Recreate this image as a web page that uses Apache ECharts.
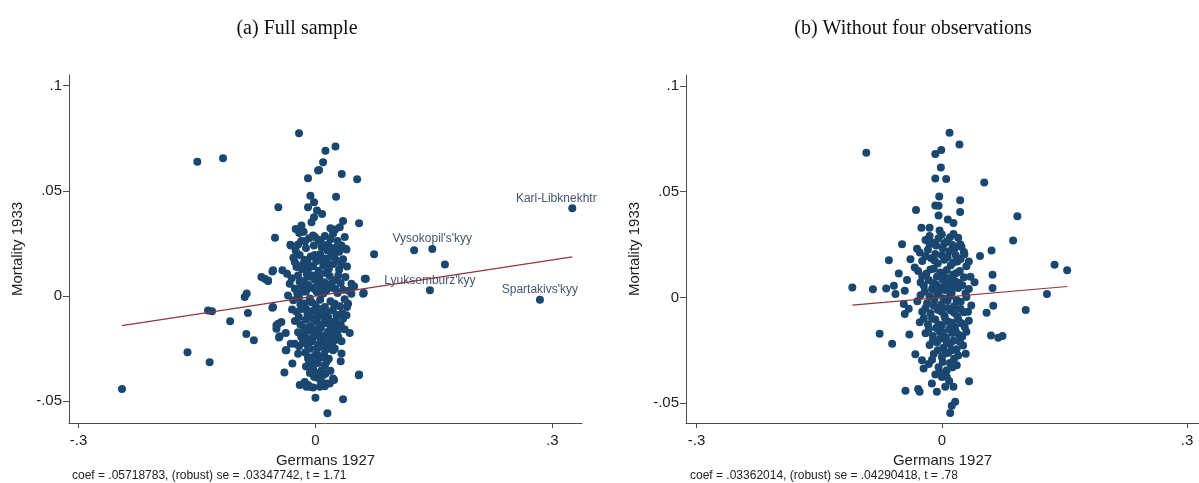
<!DOCTYPE html>
<html>
<head>
<meta charset="utf-8">
<script src="https://cdn.jsdelivr.net/npm/echarts@6/dist/echarts.min.js"></script>
<style>
  html, body { margin: 0; padding: 0; background: #ffffff; }
  #chart { width: 1199px; height: 483px; }
</style>
</head>
<body>
<div id="chart"></div>
<script>
// Panel titles, axis names and tick values
const panelTitles = ['(a) Full sample', '(b) Without four observations'];
const xName = 'Germans 1927';
const yName = 'Mortality 1933';
const xTicks = [-0.3, 0, 0.3];
const yTicks = [-0.05, 0, 0.05, 0.1];

// Regression statistics shown under each panel
const coefs = [0.05718783, 0.03362014];
const robustSE = [0.03347742, 0.04290418];
const tStats = [1.71, 0.78];

// (a) Full sample: [Germans 1927, Mortality 1933] residual pairs
const fullSample = [
  [-0.245,-0.0442],[-0.162,-0.0267],[-0.134,-0.0314],[-0.136,-0.0069],[-0.131,-0.0072],[-0.108,-0.0120],
  [-0.0896,-0.0005],[-0.087,0.0012],[-0.0855,-0.0080],[-0.0875,-0.0180],[-0.078,-0.0210],[-0.0643,0.0082],
  [-0.060,0.0071],[-0.0545,-0.0055],[-0.0545,0.0117],[-0.1496,0.0638],[-0.117,0.0654],[-0.0208,0.0773],
  [-0.047,0.0422],[-0.0512,0.0277],[-0.0317,0.0244],
  [-0.0094,0.0559],[0.0033,0.0596],[-0.0063,0.0477],[-0.0094,0.0422],[-0.0018,0.0446],[-0.0018,0.0374],
  [-0.005,0.0350],[-0.025,0.0319],[-0.0177,0.0335],[0.0127,0.0690],[0.0254,0.0710],[0.0097,0.0635],
  [0.0046,0.0599],[0.0333,0.0580],[0.0528,0.0555],[0.0261,0.0472],[0.0020,0.0406],[0.0084,0.0390],
  [0.0350,0.0356],[0.0553,0.0346],[0.0308,0.0327],[0.0223,0.0296],[0.0371,0.0280],[-0.0006,0.0280],
  [0.0384,0.0225],[0.0743,0.0198],[0.125,0.0217],[0.164,0.0150],[0.0638,0.0082],[0.0612,0.0014],
  [0.0549,-0.0376],[0.035,-0.049],[0.0152,-0.0557],[0,-0.0483],[-0.0393,-0.0363],[-0.0376,-0.0257],
  [-0.0292,-0.0320],[-0.0199,-0.0423],[-0.0114,-0.0431],[-0.003,-0.0434],[0.0055,-0.0431],[0.014,-0.0415],
  [0.0223,-0.0392],[0.032,-0.0310],[0.033,-0.0273],[0.0245,-0.0249],[0.0435,-0.0175],[0.0456,0.0011],
  [0.0393,-0.0091],[0.0287,-0.0163],
  [-0.047,-0.0131],[-0.0494,-0.0155],[-0.0431,-0.0123],[-0.0376,-0.0175],[-0.0461,-0.0197],[-0.0296,-0.0064],
  [-0.0313,-0.0226],[-0.036,0.0106],[-0.0418,0.0122],[-0.0326,0.0059],[-0.0094,-0.0423],[-0.0051,-0.0305],
  [-0.0009,-0.0384],
  [-0.0313,0.0240],[0.0393,0.0221],[-0.0537,0.0122],[-0.0684,0.0090],[-0.0600,0.0074],[0.0625,0.0082],
  [0.0604,0.0011],[-0.0537,-0.0052],[-0.0347,0.0003],[0.0456,0.0059],[0.0413,-0.0036],[0.0245,-0.0036],
  [0.0266,-0.0091],
  [-0.0494,-0.0139],[-0.0453,-0.0191],[-0.0368,-0.0258],[-0.0262,-0.0226],[-0.0208,-0.0239],[-0.022,-0.0274],
  [-0.0094,-0.029],[-0.0072,-0.0321],[-0.003,-0.0345],[-0.0018,-0.0382],[0.0013,-0.0274],[0.0055,-0.0242],
  [0.0076,-0.029],[0.0223,-0.0258],[0.0245,-0.021],[0.0553,-0.0373],[-0.0136,-0.0408],[-0.0072,-0.0431],
  [0.0118,-0.0428],[0.0181,-0.0415],[0.0236,-0.0399],
  [-0.0205,0.0300],[-0.015,0.0305],[0.025,0.0316],[0.019,0.0322],
  [-0.018,0.0262],[-0.008,0.0275],[0.004,0.0268],[0.012,0.0285],[0.019,0.0270],[0.028,0.0262],
  [-0.025,0.0215],[-0.012,0.0228],[-0.002,0.0240],[0.008,0.0232],[0.016,0.0245],[0.024,0.0228],[0.033,0.0240],
  [-0.028,0.0182],[-0.020,0.0195],[-0.014,0.0172],[-0.006,0.0188],[0.001,0.0165],[0.006,0.0198],
  [0.013,0.0178],[0.020,0.0190],[0.027,0.0168],[0.035,0.0175],[-0.024,0.0138],[-0.016,0.0150],
  [-0.009,0.0128],[-0.003,0.0142],[0.004,0.0120],[0.010,0.0145],[0.017,0.0130],[0.023,0.0152],
  [0.030,0.0125],[0.040,0.0140],
  [-0.030,0.0085],[-0.022,0.0098],[-0.015,0.0072],[-0.008,0.0092],[-0.001,0.0078],[0.005,0.0088],
  [0.011,0.0065],[0.018,0.0095],[0.025,0.0075],[0.032,0.0062],[0.038,0.0090],[-0.026,0.0035],
  [-0.018,0.0048],[-0.012,0.0022],[-0.005,0.0040],[0.002,0.0018],[0.008,0.0045],[0.014,0.0028],
  [0.021,0.0040],[0.028,0.0015],[0.035,0.0030],[0.049,0.0045],
  [-0.028,-0.0020],[-0.021,-0.0008],[-0.014,-0.0035],[-0.007,-0.0012],[0.000,-0.0040],[0.006,-0.0018],
  [0.012,-0.0052],[0.019,-0.0025],[0.031,-0.0048],[0.037,-0.0015],[-0.024,-0.0075],[-0.017,-0.0062],
  [-0.010,-0.0088],[-0.003,-0.0070],[0.003,-0.0095],[0.009,-0.0078],[0.016,-0.0100],[0.022,-0.0068],
  [0.034,-0.0082],
  [-0.026,-0.0118],[-0.019,-0.0135],[-0.012,-0.0112],[-0.006,-0.0142],[0.001,-0.0120],[0.007,-0.0150],
  [0.013,-0.0128],[0.019,-0.0145],[0.025,-0.0118],[0.032,-0.0135],[-0.022,-0.0172],[-0.015,-0.0185],
  [-0.008,-0.0165],[-0.002,-0.0192],[0.004,-0.0175],[0.010,-0.0198],[0.016,-0.0170],[0.021,-0.0188],
  [0.029,-0.0195],[0.037,-0.0158],
  [-0.016,-0.0222],[-0.010,-0.0235],[-0.004,-0.0215],[0.002,-0.0245],[0.009,-0.0228],[0.015,-0.0252],
  [0.018,-0.0218],[-0.013,-0.0268],[-0.001,-0.0285],[0.011,-0.0275],[0.017,-0.0298],
  [-0.012,-0.0335],[0.003,-0.0318],[0.008,-0.0352],[0.012,-0.0330],[-0.007,-0.0365],[0.004,-0.0390],
  [0.010,-0.0375],[0.019,-0.0355],
  [-0.022,0.0245],[-0.013,0.0262],[-0.003,0.0288],[0.007,0.0255],[0.015,0.0218],[0.022,0.0205],[0.030,0.0210],
  [-0.026,0.0160],[-0.017,0.0128],[-0.010,0.0158],[-0.001,0.0195],[0.008,0.0170],[0.015,0.0158],[0.024,0.0185],
  [0.033,0.0152],[-0.020,0.0068],[-0.011,0.0105],[-0.003,0.0098],[0.003,0.0062],[0.013,0.0110],[0.020,0.0058],
  [0.029,0.0098],[0.042,0.0025],[-0.023,0.0012],[-0.016,0.0020],[-0.009,0.0052],[0.000,0.0030],[0.010,0.0012],
  [0.017,0.0055],[0.025,0.0035],[0.040,-0.0052],[-0.019,-0.0040],[-0.012,-0.0060],[-0.005,-0.0030],
  [0.004,-0.0060],[0.014,-0.0075],[0.024,-0.0045],[0.028,-0.0090],[-0.021,-0.0100],[-0.014,-0.0150],
  [-0.004,-0.0105],[0.005,-0.0135],[0.011,-0.0105],[0.017,-0.0122],[0.027,-0.0150],[0.035,-0.0108],
  [-0.018,-0.0195],[-0.011,-0.0200],[0.000,-0.0160],[0.007,-0.0205],[0.013,-0.0185],[0.024,-0.0172],
  [0.033,-0.0215],[-0.007,-0.0250],[0.005,-0.0228],[0.012,-0.0240],[0.021,-0.0230],[-0.009,-0.0300],
  [0.006,-0.0290],[0.014,-0.0312],[-0.004,-0.0340],[0.001,-0.0365],[0.007,-0.0405],[0.013,-0.0368]
];

// (a) Named raions marked in the full sample: [name, x, y]
const fullLabelled = [
  ['Karl-Libknekhtr', 0.3253, 0.0417],
  ["Vysokopil's'kyy", 0.148, 0.0223],
  ["Lyuksemburz'kyy", 0.145, 0.0027],
  ["Spartakivs'kyy", 0.2843, -0.0017]
];

// (b) Sample without the four observations
const trimmedSample = [
  [-0.0924,0.0684],[-0.0316,0.0413],[-0.0487,0.0251],[-0.0304,0.0230],[-0.0648,0.0176],[-0.0384,0.0180],
  [0.0094,0.0779],[0.0215,0.0723],[-0.008,0.0678],[-0.0007,0.0697],[-0.0012,0.0614],[-0.008,0.0563],
  [0.0053,0.0560],[0.0519,0.0543],[-0.0032,0.0477],[0.0224,0.0459],[-0.008,0.0435],[-0.004,0.0434],
  [0.0224,0.0404],[-0.004,0.0387],[0.0073,0.0368],[0.0142,0.0352],[0.0924,0.0384],[-0.025,0.0329],
  [-0.015,0.0329],[-0.0028,0.0316],[0,0.0298],[0.0142,0.0300],[0.0872,0.0269],[-0.015,0.0251],
  [0.0224,0.0251],[0.0608,0.0222],[0.0467,0.0196],[0.0276,0.0204],
  [-0.1095,0.0047],[-0.0843,0.0039],[-0.0681,0.0042],[-0.0587,0.0055],[-0.0567,0.0016],[-0.0527,0.0113],
  [-0.0426,0.0082],[-0.0332,0.0141],[-0.0454,0.0031],[-0.0454,-0.0078],[-0.0405,-0.0054],[-0.0466,-0.0031],
  [-0.0761,-0.0172],[-0.0608,-0.0219],[-0.0397,-0.0175],[-0.0324,-0.0269],[-0.0445,-0.0441],[-0.029,-0.0433],
  [-0.0272,-0.0446],
  [0.1379,0.0154],[0.1533,0.0129],[0.1286,0.0016],[0.1026,-0.0059],[0.0629,-0.0039],[0.0547,-0.0073],
  [0.062,0.0044],[0.062,0.0107],[0.0601,-0.0180],[0.069,-0.0191],[0.0742,-0.0183],
  [0.0333,-0.0396],[0.0292,-0.0266],[0.0182,-0.0321],[0.0163,-0.0493],[0.0122,-0.0513],[0.0102,-0.0547],
  [-0.0122,-0.0407],[-0.0061,-0.0446],[0.0041,-0.0423],[0.0142,-0.0423],[-0.0223,-0.0336],[0,-0.0376],
  [-0.0243,-0.0297],
  [-0.020,0.0272],[-0.011,0.0258],[-0.004,0.0280],[0.006,0.0265],[0.013,0.0248],[0.020,0.0282],
  [-0.027,0.0212],[-0.017,0.0225],[-0.008,0.0205],[0.001,0.0232],[0.009,0.0218],[0.017,0.0200],[0.027,0.0215],
  [-0.024,0.0172],[-0.013,0.0185],[-0.005,0.0160],[0.003,0.0178],[0.011,0.0152],[0.019,0.0170],[0.030,0.0148],
  [-0.029,0.0125],[-0.019,0.0112],[-0.010,0.0135],[-0.002,0.0118],[0.006,0.0130],[0.014,0.0108],
  [0.022,0.0125],[0.035,0.0098],
  [-0.026,0.0070],[-0.016,0.0082],[-0.007,0.0060],[0.001,0.0085],[0.008,0.0068],[0.016,0.0078],
  [0.025,0.0058],[0.040,0.0072],[-0.021,0.0028],[-0.012,0.0040],[-0.004,0.0015],[0.004,0.0035],
  [0.012,0.0022],[0.020,0.0045],[0.029,0.0020],
  [-0.030,-0.0018],[-0.018,-0.0028],[-0.009,-0.0010],[-0.001,-0.0035],[0.007,-0.0015],[0.015,-0.0042],
  [0.023,-0.0020],[0.036,-0.0038],[-0.024,-0.0068],[-0.014,-0.0075],[-0.005,-0.0058],[0.003,-0.0085],
  [0.011,-0.0062],[0.019,-0.0090],[0.027,-0.0070],
  [-0.027,-0.0118],[-0.017,-0.0128],[-0.008,-0.0105],[0.000,-0.0132],[0.008,-0.0115],[0.016,-0.0140],
  [0.024,-0.0122],[0.033,-0.0110],[-0.020,-0.0170],[-0.011,-0.0182],[-0.003,-0.0160],[0.005,-0.0188],
  [0.013,-0.0168],[0.021,-0.0178],[0.030,-0.0162],
  [-0.015,-0.0225],[-0.006,-0.0212],[0.002,-0.0238],[0.010,-0.0220],[0.018,-0.0245],[0.026,-0.0228],
  [-0.010,-0.0268],[0.000,-0.0282],[0.008,-0.0262],[0.015,-0.0290],[-0.016,-0.0315],[-0.004,-0.0330],
  [0.006,-0.0345],[0.010,-0.0310],[-0.008,-0.0365],[0.003,-0.0372],[0.009,-0.0395],
  [-0.015,0.0290],[-0.007,0.0245],[0.003,0.0255],[0.010,0.0285],[0.016,0.0232],[0.024,0.0240],
  [-0.020,0.0195],[-0.009,0.0175],[0.000,0.0200],[0.007,0.0190],[0.014,0.0165],[0.023,0.0182],[0.033,0.0170],
  [-0.024,0.0100],[-0.014,0.0132],[-0.006,0.0098],[0.002,0.0110],[0.010,0.0092],[0.018,0.0115],[0.027,0.0095],
  [-0.022,0.0055],[-0.011,0.0068],[-0.002,0.0048],[0.005,0.0060],[0.013,0.0050],[0.021,0.0068],[0.033,0.0040],
  [-0.026,0.0010],[-0.015,0.0005],[-0.006,0.0022],[0.002,-0.0005],[0.010,0.0008],[0.018,-0.0012],[0.030,0.0002],
  [-0.020,-0.0050],[-0.010,-0.0040],[-0.001,-0.0065],[0.007,-0.0050],[0.015,-0.0072],[0.023,-0.0055],
  [0.032,-0.0068],[-0.022,-0.0098],[-0.012,-0.0100],[-0.004,-0.0128],[0.004,-0.0098],[0.012,-0.0120],
  [0.020,-0.0105],[0.028,-0.0140],[-0.016,-0.0150],[-0.007,-0.0145],[0.001,-0.0165],[0.009,-0.0150],
  [0.017,-0.0160],[0.025,-0.0185],[-0.011,-0.0205],[-0.002,-0.0195],[0.006,-0.0215],[0.014,-0.0205],
  [0.022,-0.0210],[-0.005,-0.0250],[0.004,-0.0265],[0.012,-0.0250],[0.020,-0.0275],[-0.012,-0.0295],
  [0.001,-0.0305],[0.013,-0.0330],[-0.002,-0.0355],[0.006,-0.0375]
];

// Stata-style numbers: drop the leading zero (".05", "-.3")
function stataNum(v) {
  if (Math.abs(v) < 1e-12) return '0';
  return String(+v.toFixed(8)).replace(/^(-?)0\./, '$1.');
}

const MARKER = '#1a476f';
const FIT = '#90353b';
const AXIS = '#4d4d4d';
const TEXT = '#222222';
const SANS = 'Liberation Sans, Arial, sans-serif';

function fitLine(points, slope) {
  const xs = points.map(p => p[0]);
  const lo = Math.min(...xs), hi = Math.max(...xs);
  return [[lo, slope * lo], [hi, slope * hi]];
}

function xAxisFor(idx, min, max) {
  return {
    type: 'value', gridIndex: idx, min: min, max: max,
    name: xName, nameLocation: 'middle', nameGap: 27,
    nameTextStyle: { fontFamily: SANS, fontSize: 15, color: TEXT },
    axisLine: { show: true, onZero: false, lineStyle: { color: AXIS, width: 1 } },
    axisTick: { show: true, length: 5, customValues: xTicks, lineStyle: { color: AXIS } },
    axisLabel: { customValues: xTicks, formatter: stataNum, margin: 10,
                 fontFamily: SANS, fontSize: 15, color: TEXT },
    splitLine: { show: false }
  };
}

function yAxisFor(idx, min, max) {
  return {
    type: 'value', gridIndex: idx, min: min, max: max,
    name: yName, nameLocation: 'middle', nameGap: 44,
    nameTextStyle: { fontFamily: SANS, fontSize: 15, color: TEXT },
    axisLine: { show: true, onZero: false, lineStyle: { color: AXIS, width: 1 } },
    axisTick: { show: true, length: 6, customValues: yTicks, lineStyle: { color: AXIS } },
    axisLabel: { customValues: yTicks, formatter: stataNum, margin: 7,
                 fontFamily: SANS, fontSize: 15, color: TEXT },
    splitLine: { show: false }
  };
}

const labelShift = { 'Karl-Libknekhtr': [-16, 0] };

const allFull = fullSample.concat(fullLabelled.map(r => [r[1], r[2]]));

const chart = echarts.init(document.getElementById('chart'), null, { renderer: 'canvas' });
chart.setOption({
  backgroundColor: '#ffffff',
  animation: false,
  grid: [
    { left: 69, top: 75, width: 513, height: 348 },
    { left: 686, top: 75, width: 516, height: 348 }
  ],
  xAxis: [xAxisFor(0, -0.3121, 0.3376), xAxisFor(1, -0.313, 0.3146)],
  yAxis: [yAxisFor(0, -0.0603, 0.105), yAxisFor(1, -0.0594, 0.1052)],
  series: [
    {
      type: 'scatter', xAxisIndex: 0, yAxisIndex: 0, data: fullSample,
      symbolSize: 8, itemStyle: { color: MARKER, opacity: 1 }, z: 2
    },
    {
      type: 'scatter', xAxisIndex: 0, yAxisIndex: 0,
      data: fullLabelled.map(r => ({
        name: r[0], value: [r[1], r[2]],
        label: { offset: labelShift[r[0]] || [0, 0] }
      })),
      symbolSize: 8, itemStyle: { color: MARKER, opacity: 1 }, z: 2,
      label: {
        show: true, position: 'top', distance: 0, formatter: p => p.name,
        fontFamily: SANS, fontSize: 12, color: '#44566f'
      }
    },
    {
      type: 'line', xAxisIndex: 0, yAxisIndex: 0, data: fitLine(allFull, coefs[0]),
      showSymbol: false, lineStyle: { color: FIT, width: 1.2 }, z: 3, silent: true
    },
    {
      type: 'scatter', xAxisIndex: 1, yAxisIndex: 1, data: trimmedSample,
      symbolSize: 8, itemStyle: { color: MARKER, opacity: 1 }, z: 2
    },
    {
      type: 'line', xAxisIndex: 1, yAxisIndex: 1, data: fitLine(trimmedSample, coefs[1]),
      showSymbol: false, lineStyle: { color: FIT, width: 1.2 }, z: 3, silent: true
    }
  ],
  graphic: [
    { type: 'text', x: 297, y: 29, style: {
        text: panelTitles[0], font: '20px "Liberation Serif", serif', fill: '#111',
        textAlign: 'center', textVerticalAlign: 'middle' } },
    { type: 'text', x: 913, y: 29, style: {
        text: panelTitles[1], font: '20px "Liberation Serif", serif', fill: '#111',
        textAlign: 'center', textVerticalAlign: 'middle' } },
    { type: 'text', x: 72, y: 476, style: {
        text: 'coef = ' + stataNum(coefs[0]) + ', (robust) se = ' + stataNum(robustSE[0]) + ', t = ' + stataNum(tStats[0]),
        font: '12px "Liberation Sans", Arial, sans-serif', fill: TEXT,
        textAlign: 'left', textVerticalAlign: 'middle' } },
    { type: 'text', x: 690, y: 476, style: {
        text: 'coef = ' + stataNum(coefs[1]) + ', (robust) se = ' + stataNum(robustSE[1]) + ', t = ' + stataNum(tStats[1]),
        font: '12px "Liberation Sans", Arial, sans-serif', fill: TEXT,
        textAlign: 'left', textVerticalAlign: 'middle' } }
  ]
});
</script>
</body>
</html>
